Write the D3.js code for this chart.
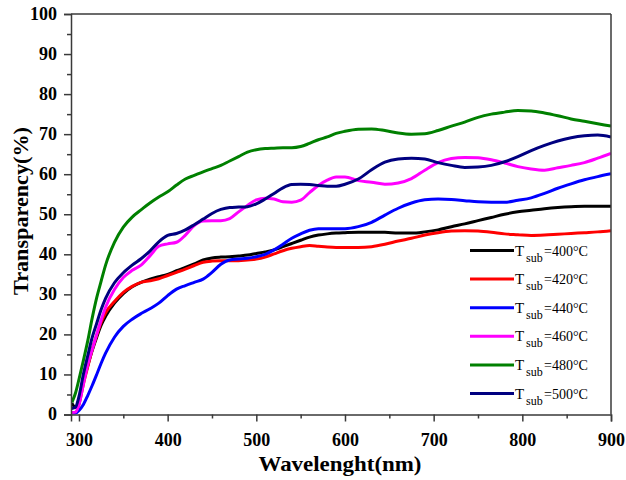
<!DOCTYPE html>
<html>
<head>
<meta charset="utf-8">
<script src="https://cdn.jsdelivr.net/npm/d3@7/dist/d3.min.js"></script>
<style>
  html, body { margin: 0; padding: 0; background: #fff; }
  svg { display: block; }
  text { font-family: "Liberation Serif", "Times New Roman", serif; }
</style>
</head>
<body>
<svg id="chart" width="626" height="480"></svg>
<script>
// Wavelength grid (nm) shared by all transmittance spectra
const wavelength = [292, 296, 300, 305, 310, 315, 320, 325, 330, 340, 350, 360, 370, 380, 390, 400,
  410, 420, 430, 440, 450, 460, 470, 480, 490, 500, 510, 520, 530, 540, 550, 560, 570, 580, 590, 600,
  615, 630, 645, 660, 675, 690, 705, 720, 735, 750, 765, 780, 795, 810, 825, 840, 855, 870, 885, 900];

// Transparency (%) for each substrate temperature
const t400 = [2.8, 1.8, 3.5, 8.4, 12.3, 16.0, 19.3, 22.3, 24.5, 27.8, 30.2, 31.9, 33.0, 33.8, 34.4, 35.0,
  35.9, 36.7, 37.6, 38.6, 39.1, 39.3, 39.4, 39.6, 39.8, 40.2, 40.6, 41.1, 41.9, 42.7, 43.5, 44.3, 44.8, 45.1, 45.3, 45.4,
  45.5, 45.5, 45.5, 45.3, 45.3, 45.6, 46.1, 46.9, 47.6, 48.4, 49.2, 50.0, 50.6, 51.0, 51.4, 51.7, 51.9, 52.0, 52.0, 52.0];
const t420 = [0.5, 0.5, 2.5, 7.6, 12.0, 16.3, 19.8, 23.0, 25.4, 28.2, 30.5, 32.0, 33.0, 33.4, 33.9, 34.7,
  35.5, 36.3, 37.2, 38.0, 38.3, 38.4, 38.4, 38.4, 38.6, 38.8, 39.3, 40.1, 40.9, 41.5, 41.9, 42.2, 42.0, 41.8, 41.7, 41.7,
  41.7, 41.9, 42.5, 43.3, 44.0, 44.8, 45.4, 45.8, 45.9, 45.8, 45.5, 45.1, 44.9, 44.7, 44.8, 45.0, 45.2, 45.4, 45.6, 45.9];
const t440 = [0.2, 0.3, 1.0, 2.5, 4.8, 7.3, 10.0, 12.8, 15.3, 19.3, 22.0, 23.8, 25.2, 26.4, 27.8, 29.7,
  31.3, 32.2, 33.0, 33.8, 35.5, 37.5, 38.6, 38.8, 39.0, 39.4, 40.0, 41.1, 42.5, 44.0, 45.1, 46.0, 46.4, 46.4, 46.4, 46.4,
  46.9, 48.0, 49.8, 51.5, 52.8, 53.6, 53.8, 53.7, 53.4, 53.1, 53.0, 53.0, 53.5, 54.1, 55.2, 56.5, 57.6, 58.6, 59.4, 60.1];
const t460 = [0.5, 0.6, 2.5, 7.6, 12.5, 16.3, 20.0, 23.6, 26.8, 31.2, 34.2, 36.0, 37.3, 39.6, 42.0, 42.6,
  43.0, 44.8, 47.2, 48.3, 48.4, 48.4, 48.9, 50.6, 52.2, 53.6, 54.0, 53.8, 53.1, 53.0, 53.5, 55.4, 57.2, 58.5, 59.3, 59.3,
  58.4, 58.0, 57.5, 57.8, 58.9, 61.0, 62.9, 63.9, 64.2, 64.1, 63.6, 62.8, 61.9, 61.3, 61.0, 61.6, 62.2, 62.9, 64.0, 65.2];
const t480 = [3.0, 5.3, 8.8, 13.5, 18.5, 24.2, 29.2, 33.3, 37.3, 43.0, 46.8, 49.3, 51.1, 52.8, 54.3, 55.6,
  57.3, 58.8, 59.7, 60.6, 61.4, 62.2, 63.3, 64.4, 65.5, 66.1, 66.4, 66.5, 66.6, 66.6, 66.9, 67.7, 68.6, 69.3, 70.2, 70.7,
  71.2, 71.3, 70.9, 70.3, 70.0, 70.1, 70.9, 72.0, 73.0, 74.2, 75.0, 75.5, 75.9, 75.8, 75.3, 74.6, 73.8, 73.2, 72.6, 72.0];
const t500 = [1.5, 1.8, 4.5, 10.1, 14.8, 19.3, 22.8, 26.2, 29.0, 32.9, 35.4, 37.3, 38.9, 40.8, 43.1, 44.7,
  45.2, 46.1, 47.4, 48.8, 50.2, 51.2, 51.7, 51.8, 51.9, 52.6, 53.8, 55.2, 56.6, 57.4, 57.5, 57.4, 57.2, 57.0, 57.0, 57.5,
  58.8, 61.1, 63.0, 63.8, 64.0, 63.8, 62.9, 62.2, 61.7, 61.8, 62.2, 63.1, 64.4, 65.9, 67.2, 68.3, 69.1, 69.6, 69.8, 69.3];

const temperatures = ["400", "420", "440", "460", "480", "500"];
const seriesValues = [t400, t420, t440, t460, t480, t500];
const seriesColors = ["#000000", "#ff0000", "#0000ff", "#ff00ff", "#008000", "#000080"];

const xTicks = [300, 400, 500, 600, 700, 800, 900];
const xMinorTicks = [350, 450, 550, 650, 750, 850];
const yTicks = [0, 10, 20, 30, 40, 50, 60, 70, 80, 90, 100];
const yMinorTicks = [5, 15, 25, 35, 45, 55, 65, 75, 85, 95];

const svg = d3.select("#chart");
const plotLeft = 71, plotRight = 611, plotTop = 14, plotBottom = 414.5;

const x = d3.scaleLinear().domain([291, 900]).range([plotLeft, plotRight]);
const y = d3.scaleLinear().domain([0, 100]).range([plotBottom, plotTop]);

const axisColor = "#3a3a3a";

// clip for curves
svg.append("clipPath").attr("id", "plotClip")
  .append("rect").attr("x", plotLeft).attr("y", plotTop)
  .attr("width", plotRight - plotLeft).attr("height", plotBottom - plotTop);

// spectra
const line = d3.line()
  .x((d, i) => x(wavelength[i]))
  .y(d => y(d))
  .curve(d3.curveMonotoneX);

const curves = svg.append("g").attr("clip-path", "url(#plotClip)");
seriesValues.forEach((vals, k) => {
  curves.append("path")
    .datum(vals)
    .attr("d", line)
    .attr("fill", "none")
    .attr("stroke", seriesColors[k])
    .attr("stroke-width", 3)
    .attr("stroke-linejoin", "round");
});

// frame: top and right edges
svg.append("line").attr("x1", plotLeft).attr("x2", plotRight).attr("y1", plotTop).attr("y2", plotTop)
  .attr("stroke", axisColor).attr("stroke-width", 1.5);
svg.append("line").attr("x1", plotRight).attr("x2", plotRight).attr("y1", plotTop).attr("y2", plotBottom)
  .attr("stroke", axisColor).attr("stroke-width", 1.5);

function styleAxis(g) {
  g.select(".domain").attr("stroke", axisColor).attr("stroke-width", 1.5);
  g.selectAll(".tick line").attr("stroke", axisColor).attr("stroke-width", 1.5);
  g.selectAll("text")
    .attr("fill", "#000")
    .style("font-family", "'Liberation Serif', 'Times New Roman', serif")
    .style("font-weight", "bold")
    .style("font-size", "18px");
}

// y axis
const yAxisG = svg.append("g").attr("transform", `translate(${plotLeft},0)`)
  .call(d3.axisLeft(y).tickValues(yTicks).tickSize(7).tickPadding(7).tickFormat(d3.format("d")))
  .call(styleAxis);
yAxisG.selectAll("text").attr("dy", "0.28em");
svg.append("g").attr("transform", `translate(${plotLeft},0)`)
  .call(d3.axisLeft(y).tickValues(yMinorTicks).tickSize(4).tickFormat(""))
  .call(styleAxis)
  .select(".domain").remove();

// x axis
svg.append("g").attr("transform", `translate(0,${plotBottom})`)
  .call(d3.axisBottom(x).tickValues(xTicks).tickSize(7).tickPadding(12).tickFormat(d3.format("d")))
  .call(styleAxis);
svg.append("g").attr("transform", `translate(0,${plotBottom})`)
  .call(d3.axisBottom(x).tickValues(xMinorTicks).tickSize(4).tickFormat(""))
  .call(styleAxis)
  .select(".domain").remove();

// axis titles
svg.append("text")
  .attr("x", 340).attr("y", 471)
  .attr("text-anchor", "middle")
  .attr("textLength", 163).attr("lengthAdjust", "spacingAndGlyphs")
  .style("font-weight", "bold").style("font-size", "21px")
  .text("Wavelenght(nm)");

svg.append("text")
  .attr("transform", "translate(28,211) rotate(-90)")
  .attr("text-anchor", "middle")
  .attr("textLength", 168).attr("lengthAdjust", "spacingAndGlyphs")
  .style("font-weight", "bold").style("font-size", "21px")
  .text("Transparency(%)");

// legend
const legend = svg.append("g");
temperatures.forEach((t, k) => {
  const ly = 250.5 + k * 28.6;
  legend.append("line")
    .attr("x1", 470).attr("x2", 514).attr("y1", ly).attr("y2", ly)
    .attr("stroke", seriesColors[k]).attr("stroke-width", 3);
  legend.append("text").attr("x", 515).attr("y", ly + 5)
    .style("font-size", "15px").text("T");
  legend.append("text").attr("x", 526).attr("y", ly + 11)
    .style("font-size", "12px").text("sub");
  legend.append("text").attr("x", 544).attr("y", ly + 5)
    .attr("textLength", 44).attr("lengthAdjust", "spacingAndGlyphs")
    .style("font-size", "15px").text("=" + t + "°C");
});
</script>
</body>
</html>
